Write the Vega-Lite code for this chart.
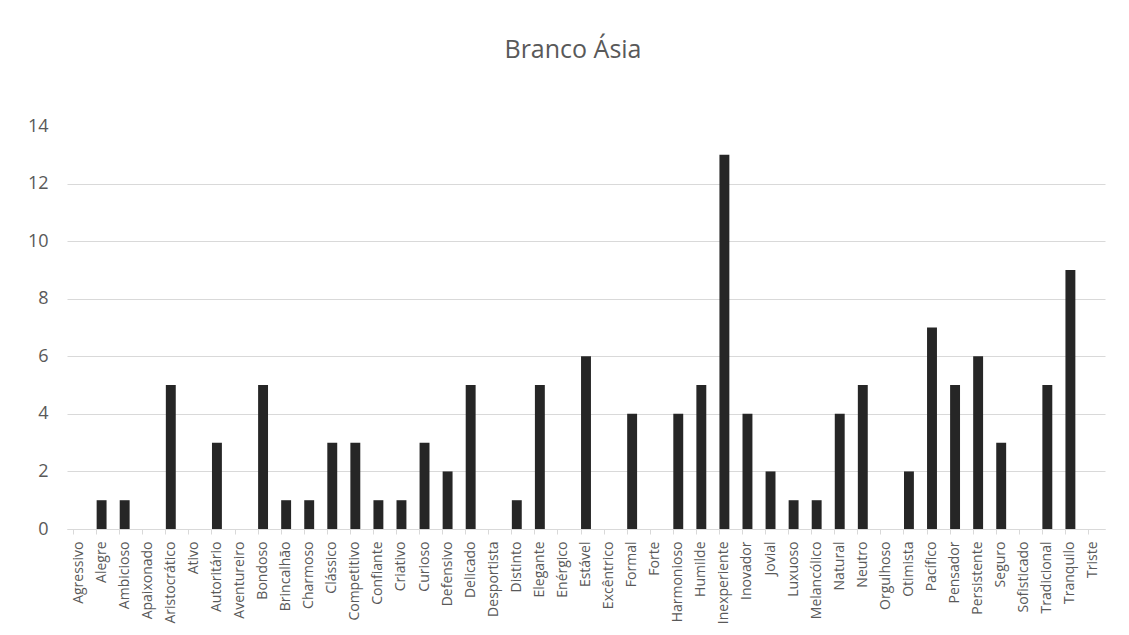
{
  "$schema": "https://vega.github.io/schema/vega-lite/v6.json",
  "width": 1038,
  "height": 403,
  "autosize": {"type": "none"},
  "padding": {"left": 67, "top": 126, "right": 24, "bottom": 106},
  "background": "white",
  "title": {
    "text": "Branco Ásia",
    "font": "Open Sans",
    "fontSize": 25,
    "fontWeight": "normal",
    "color": "#595959",
    "anchor": "middle",
    "dx": -13,
    "offset": 54
  },
  "data": {
    "values": [
      {"c": "Agressivo", "v": 0}, {"c": "Alegre", "v": 1}, {"c": "Ambicioso", "v": 1},
      {"c": "Apaixonado", "v": 0}, {"c": "Aristocrático", "v": 5}, {"c": "Ativo", "v": 0},
      {"c": "Autoritário", "v": 3}, {"c": "Aventureiro", "v": 0}, {"c": "Bondoso", "v": 5},
      {"c": "Brincalhão", "v": 1}, {"c": "Charmoso", "v": 1}, {"c": "Clássico", "v": 3},
      {"c": "Competitivo", "v": 3}, {"c": "Confiante", "v": 1}, {"c": "Criativo", "v": 1},
      {"c": "Curioso", "v": 3}, {"c": "Defensivo", "v": 2}, {"c": "Delicado", "v": 5},
      {"c": "Desportista", "v": 0}, {"c": "Distinto", "v": 1}, {"c": "Elegante", "v": 5},
      {"c": "Enérgico", "v": 0}, {"c": "Estável", "v": 6}, {"c": "Excêntrico", "v": 0},
      {"c": "Formal", "v": 4}, {"c": "Forte", "v": 0}, {"c": "Harmonioso", "v": 4},
      {"c": "Humilde", "v": 5}, {"c": "Inexperiente", "v": 13}, {"c": "Inovador", "v": 4},
      {"c": "Jovial", "v": 2}, {"c": "Luxuoso", "v": 1}, {"c": "Melancólico", "v": 1},
      {"c": "Natural", "v": 4}, {"c": "Neutro", "v": 5}, {"c": "Orgulhoso", "v": 0},
      {"c": "Otimista", "v": 2}, {"c": "Pacífico", "v": 7}, {"c": "Pensador", "v": 5},
      {"c": "Persistente", "v": 6}, {"c": "Seguro", "v": 3}, {"c": "Sofisticado", "v": 0},
      {"c": "Tradicional", "v": 5}, {"c": "Tranquilo", "v": 9}, {"c": "Triste", "v": 0}
    ]
  },
  "mark": {"type": "bar", "color": "#262626"},
  "encoding": {
    "x": {
      "field": "c",
      "type": "nominal",
      "sort": null,
      "title": null,
      "scale": {"paddingInner": 0.57, "paddingOuter": 0.285},
      "axis": {
        "labelAngle": -90,
        "labelAlign": "right",
        "labelBaseline": "middle",
        "labelFont": "Open Sans",
        "labelFontSize": 14,
        "labelColor": "#595959",
        "labelPadding": 7,
        "domainColor": "#d9d9d9",
        "tickColor": "#d9d9d9",
        "tickSize": 5,
        "bandPosition": 0,
        "grid": false
      }
    },
    "y": {
      "field": "v",
      "type": "quantitative",
      "title": null,
      "scale": {"domain": [0, 14], "nice": false},
      "axis": {
        "values": [0, 2, 4, 6, 8, 10, 12, 14],
        "labelFont": "Open Sans",
        "labelFontSize": 18,
        "labelColor": "#595959",
        "labelPadding": 19,
        "domain": false,
        "ticks": false,
        "gridColor": "#d9d9d9",
        "gridOpacity": {"condition": {"test": "datum.value == 14", "value": 0}, "value": 1}
      }
    }
  },
  "config": {"view": {"stroke": null}}
}
